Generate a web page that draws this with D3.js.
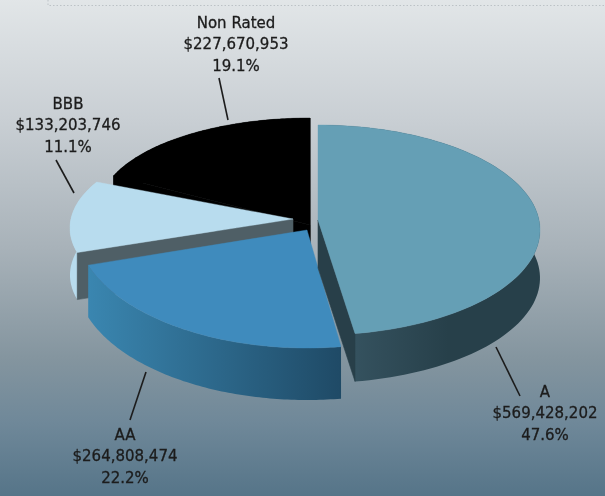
<!DOCTYPE html>
<html><head><meta charset="utf-8">
<script src="https://cdn.jsdelivr.net/npm/d3@7"></script>
<style>html,body{margin:0;padding:0;background:#fff}svg{display:block;filter:blur(0.35px)}</style>
</head><body><div id="chart"></div>
<script>
const categories = ["A", "AA", "BBB", "Non Rated"];
const amounts = [569428202, 264808474, 133203746, 227670953];
const topColors = ["#659fb5", "#3f8bbd", "#b8dcee", "#000000"];
const wallStart = ["#35525f", "#3a86b0", "#b8dcee", "#000000"];
const wallEnd = ["#27404a", "#1f4a66", "#b8dcee", "#000000"];
const sideColors = ["#283f49", "#1f4a66", "#4f5f66", "#000000"];

// Each exploded slice seen in perspective: its own ellipse, apex, rim height and visible cut faces.
const views = [
  {cx:318, cy:230, rx:222, ry:105, ax:318, ay:220, depth:48, warp:[0,170.4], cuts:[1]},
  {cx:307, cy:226, rx:231, ry:122, ax:307, ay:230, depth:52, warp:null, cuts:[]},
  {cx:270, cy:228, rx:200, ry:92,  ax:293, ay:219, depth:47, warp:[254.5,300], cuts:[0]},
  {cx:310, cy:209, rx:211, ry:91,  ax:310, ay:225, depth:30, warp:null, cuts:[0,1]}
];
const labelSpots = [
  {x:545, y:397, from:[520,396], to:[496,347]},
  {x:125, y:440, from:[130,420], to:[146,372]},
  {x:68,  y:109, from:[56,160],  to:[74,193]},
  {x:236, y:28,  from:[219,78],  to:[228,120]}
];

const W = 605, H = 496;
const svg = d3.select("#chart").append("svg").attr("width", W).attr("height", H);
const defs = svg.append("defs");
const bg = defs.append("linearGradient").attr("id","bg").attr("x1",0).attr("y1",0).attr("x2",0).attr("y2",1);
[[0,"#e2e6e8"],[0.25,"#c8ced3"],[0.5,"#a8b2b9"],[0.72,"#84959f"],[0.85,"#6f8899"],[1,"#557488"]]
  .forEach(s => bg.append("stop").attr("offset",s[0]).attr("stop-color",s[1]));
svg.append("rect").attr("x",-2).attr("y",-2).attr("width",W+4).attr("height",H+4).attr("fill","url(#bg)");
svg.append("path").attr("d","M48,0V5.5H605").attr("fill","none").attr("stroke","#bcc2c6").attr("stroke-dasharray","1.5 2");

const slices = d3.pie().sort(null).value(d => d).startAngle(0).endAngle(2*Math.PI)(amounts);
const total = d3.sum(amounts);
const money = d3.format("$,"), pct = d3.format(".1%");
const line = d3.line();
const deg = Math.PI/180;

function rim(i, n=90){
  const s = slices[i], v = views[i];
  const warp = d3.scaleLinear().domain([s.startAngle, s.endAngle])
    .range(v.warp ? v.warp.map(a => a*deg) : [s.startAngle, s.endAngle]);
  const x = d3.scaleLinear().domain([-1,1]).range([v.cx-v.rx, v.cx+v.rx]);
  const y = d3.scaleLinear().domain([-1,1]).range([v.cy+v.ry, v.cy-v.ry]);
  return d3.range(n+1).map(k => {
    const t = warp(s.startAngle + (s.endAngle-s.startAngle)*k/n);
    return [x(Math.sin(t)), y(Math.cos(t))];
  });
}

[3,2,1,0].forEach(i => {
  const v = views[i], pts = rim(i);
  const gid = "wall"+i;
  const xs = pts.map(p => p[0]);
  const g = defs.append("linearGradient").attr("id",gid).attr("gradientUnits","userSpaceOnUse")
    .attr("x1", i===0 ? d3.min(xs)+35 : d3.min(xs)).attr("x2", i===0 ? d3.min(xs)+130 : d3.max(xs)).attr("y1",0).attr("y2",0);
  g.append("stop").attr("offset",0).attr("stop-color",wallStart[i]);
  g.append("stop").attr("offset",1).attr("stop-color",wallEnd[i]);

  const layer = svg.append("g");
  // outer rim wall
  const lower = pts.map(p => [p[0],p[1]+v.depth]).reverse();
  layer.append("path").attr("fill","url(#"+gid+")").attr("d", line(pts.concat(lower))+"Z");
  // visible cut faces from apex to a rim end
  v.cuts.forEach(c => {
    const e = c === 0 ? pts[0] : pts[pts.length-1];
    layer.append("path").attr("fill",sideColors[i]).attr("stroke",sideColors[i]).attr("stroke-width",0.6).attr("d",
      line([[v.ax,v.ay],e,[e[0],e[1]+v.depth],[v.ax,v.ay+v.depth]])+"Z");
  });
  // top face
  layer.append("path").attr("fill",topColors[i]).attr("stroke",topColors[i]).attr("stroke-width",0.4)
    .attr("d", line([[v.ax,v.ay]].concat(pts))+"Z");
});

categories.forEach((c,i) => {
  const p = labelSpots[i];
  svg.append("path").attr("d", line([p.from,p.to])).attr("stroke","#1c1c1c").attr("stroke-width",1.6).attr("fill","none");
  const t = svg.append("text").attr("text-anchor","middle")
    .attr("font-family","'DejaVu Sans',sans-serif").attr("font-size",15).attr("fill","#1c1c1c")
    .attr("stroke","#1c1c1c").attr("stroke-width",0.3);
  [c, money(amounts[i]), pct(amounts[i]/total)].forEach((s,k) =>
    t.append("tspan").attr("x",p.x).attr("y",p.y+k*21.3).text(s));
});
</script></body></html>
